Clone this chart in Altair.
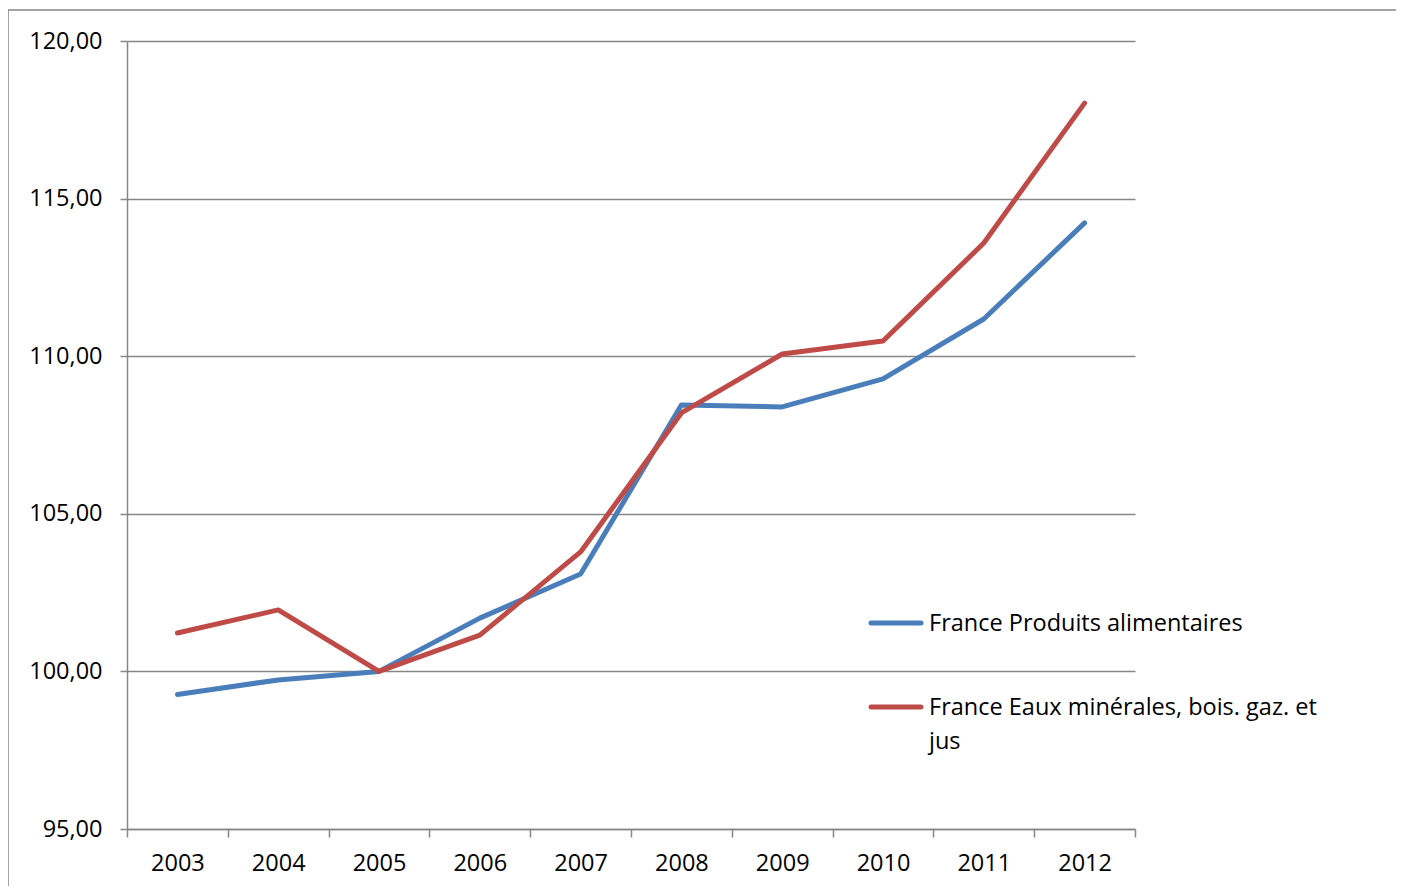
import textwrap
import altair as alt
import pandas as pd

years = ["2003", "2004", "2005", "2006", "2007", "2008", "2009", "2010", "2011", "2012"]
series_names = ["France Produits alimentaires", "France Eaux minérales, bois. gaz. et jus"]
produits = [99.27, 99.73, 100.00, 101.69, 103.09, 108.45, 108.39, 109.28, 111.18, 114.23]
eaux = [101.22, 101.95, 100.00, 101.15, 103.79, 108.20, 110.07, 110.48, 113.59, 118.03]
colors = ["#4A7EBB", "#BE4B48"]
y_ticks = [95, 100, 105, 110, 115, 120]

rows = []
for name, vals in zip(series_names, [produits, eaux]):
    for y, v in zip(years, vals):
        rows.append({"year": y, "value": v, "series": name})
df = pd.DataFrame(rows)

W, H = 1008, 788
PAD_L, PAD_T = 119, 33
TOTAL_W, TOTAL_H = 1388, 878
GRAY = "#868686"
FONT = "Open Sans"
FS = 23.5

lines = alt.Chart(df).mark_line(strokeWidth=5, strokeCap="round", strokeJoin="round").encode(
    x=alt.X("year:O", sort=years, bandPosition=0.5,
            scale=alt.Scale(type="band", paddingInner=0, paddingOuter=0),
            axis=alt.Axis(title=None, labelAngle=0, tickBand="extent", tickSize=8,
                          tickColor=GRAY, tickWidth=1.5, domainColor=GRAY, domainWidth=1.5,
                          labelPadding=14, grid=False)),
    y=alt.Y("value:Q", scale=alt.Scale(domain=[95, 120], nice=False, zero=False),
            axis=alt.Axis(title=None, values=y_ticks, tickSize=7, tickColor=GRAY, tickWidth=1.5,
                          domainColor=GRAY, domainWidth=1.5, grid=True, gridColor=GRAY,
                          gridWidth=1.5, labelPadding=18,
                          labelExpr="replace(format(datum.value, '.2f'), '.', ',')")),
    color=alt.Color("series:N", scale=alt.Scale(domain=series_names, range=colors), legend=None),
)

# outer chart frame (left and top edges)
frame_top = alt.Chart().mark_rule(color=GRAY, strokeWidth=1.5).encode(
    x=alt.value(-PAD_L), x2=alt.value(TOTAL_W - PAD_L), y=alt.value(-31))
frame_left = alt.Chart().mark_rule(color=GRAY, strokeWidth=1.5).encode(
    x=alt.value(-PAD_L), y=alt.value(-31), y2=alt.value(TOTAL_H - PAD_T))

layers = [frame_top, frame_left, lines]

# legend drawn at the right
for i, (name, col) in enumerate(zip(series_names, colors)):
    cy = 582 + 84 * i
    sym = alt.Chart().mark_rule(color=col, strokeWidth=5, strokeCap="round").encode(
        x=alt.value(744), x2=alt.value(794), y=alt.value(cy))
    label = textwrap.fill(name, width=36)
    txt = alt.Chart().mark_text(align="left", baseline="alphabetic", font=FONT, fontSize=FS,
                                color="black", lineBreak="\n", lineHeight=34).encode(
        x=alt.value(802), y=alt.value(cy + 8), text=alt.value(label))
    layers += [sym, txt]

chart = alt.layer(*layers).properties(
    width=W, height=H,
    autosize=alt.AutoSizeParams(type="none"),
    padding={"left": PAD_L, "top": PAD_T, "right": TOTAL_W - PAD_L - W, "bottom": TOTAL_H - PAD_T - H},
).configure_view(stroke=None).configure_axis(
    labelFont=FONT, labelFontSize=FS, labelColor="black"
)

chart.save("out.html", embed_options={"renderer": "svg", "actions": False})
